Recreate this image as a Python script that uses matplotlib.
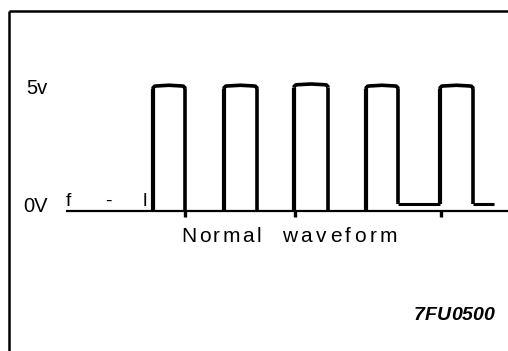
import matplotlib
matplotlib.use("Agg")
import matplotlib.pyplot as plt
from matplotlib.path import Path
from matplotlib.patches import PathPatch

# ---- data (time in arbitrary units ~ screen position, level in volts)
rise_times = [153, 224, 294, 366, 440]
fall_times = [185, 257, 328, 398, 473]
high_levels = [5.0, 5.0, 5.05, 5.0, 5.0]
low_after = [0.0, 0.0, 0.0, 0.3, 0.3]
trace_start, trace_end = 66, 508
last_low_end = 494
tick_times = [185, 295, 441]
y_labels = ["5v", "0V"]
y_label_levels = [5.0, 0.0]
caption_words = ["Normal", "waveform"]
code = "7FU0500"

W, H = 508, 351
fig = plt.figure(figsize=(W / 100, H / 100), dpi=100)
ax = fig.add_axes([0, 0, 1, 1])
ax.set_xlim(0, W)
px_per_v = 25.0
y0 = 140.0  # pixels from bottom for 0V
ax.set_ylim(-y0 / px_per_v, (H - y0) / px_per_v)
ax.axis("off")
renderer = fig.canvas.get_renderer()

def vy(pix_from_top):
    return (H - pix_from_top - y0) / px_per_v

def spaced_text(x_left, x_right, y, s, **kw):
    # place characters individually, spread evenly between x_left and x_right
    widths = []
    for ch in s:
        t = ax.text(0, 0, ch, **kw)
        widths.append(t.get_window_extent(renderer).width)
        t.remove()
    gaps = len(s) - 1
    extra = (x_right - x_left - sum(widths)) / gaps
    x = x_left
    for ch, w in zip(s, widths):
        ax.text(x, y, ch, ha="left", va="baseline", **kw)
        x += w + extra

# frame (top and left)
ax.plot([9, W], [vy(11), vy(11)], color="black", lw=1.8, solid_capstyle="butt")
ax.plot([9, 9], [vy(11), vy(H)], color="black", lw=1.8, solid_capstyle="butt")

# baseline
ax.plot([trace_start, trace_end], [0, 0], color="black", lw=1.6, solid_capstyle="butt")

# pulses
r = 0.12  # corner rounding in volts
for i, (t0, t1, hv) in enumerate(zip(rise_times, fall_times, high_levels)):
    base = low_after[i - 1] if i > 0 else 0.0
    ax.plot([t0, t0], [base, hv - r], color="black", lw=3.0, solid_capstyle="butt")
    ax.plot([t1, t1], [hv - r, low_after[i]], color="black", lw=2.6, solid_capstyle="butt")
    verts = [(t0, hv - r), (t0, hv), (t0 + 3, hv),
             ((t0 + t1) / 2, hv + 0.03), (t1 - 3, hv),
             (t1, hv), (t1, hv - r)]
    codes = [Path.MOVETO, Path.CURVE3, Path.CURVE3,
             Path.LINETO, Path.LINETO, Path.CURVE3, Path.CURVE3]
    ax.add_patch(PathPatch(Path(verts, codes), fill=False, lw=2.6, color="black"))
    if low_after[i] > 0:
        end = rise_times[i + 1] if i + 1 < len(rise_times) else last_low_end
        ax.plot([t1, end], [low_after[i], low_after[i]], color="black", lw=2.2,
                solid_capstyle="butt")

# tick marks below baseline
for t in tick_times:
    ax.plot([t, t], [0, -0.25], color="black", lw=2.4, solid_capstyle="butt")

# level labels
font = "Liberation Sans"
ax.text(26, vy(94), y_labels[0], fontsize=14.5, family=font,
        ha="left", va="baseline")
ax.text(23, vy(212), y_labels[1], fontsize=14.5, family=font,
        ha="left", va="baseline")

# marks on the left baseline part
ax.text(66, vy(206), "f", fontsize=14, family=font, ha="left", va="baseline")
ax.text(105, vy(206), "-", fontsize=14, family=font, ha="left", va="baseline")
ax.text(143, vy(206), "l", fontsize=14, family=font, ha="left", va="baseline")

# caption (letter-spaced words)
spaced_text(181, 261, vy(242), caption_words[0], fontsize=15, family=font)
spaced_text(282, 397, vy(242), caption_words[1], fontsize=15, family=font)

# code
spaced_text(414, 494, vy(320), code, fontsize=14, family=font, weight="bold",
            style="italic")

fig.savefig("out.png", dpi=100)
